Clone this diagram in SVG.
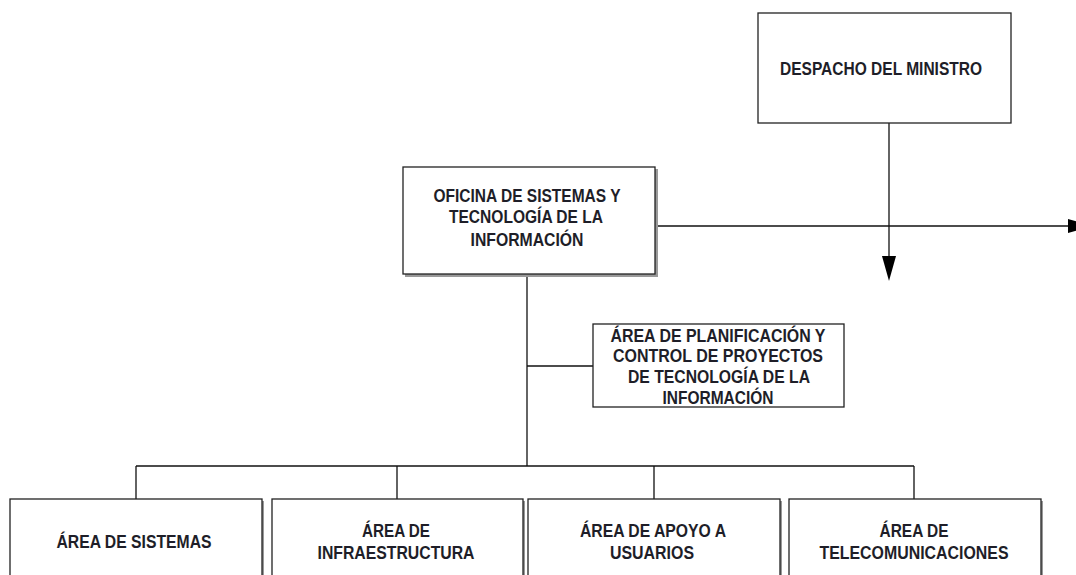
<svg xmlns="http://www.w3.org/2000/svg" width="1076" height="575" viewBox="0 0 1076 575">
<style>
.box{fill:#fff;stroke:#222;stroke-width:1.3}
.shadow{fill:#999}
.ln{fill:none;stroke:#111;stroke-width:1.3}
.t{font-family:"Liberation Sans",Arial,sans-serif;font-weight:bold;font-size:18px;fill:#1e1e28;text-anchor:middle}
</style>
<rect width="1076" height="575" fill="#fff"/>
<g id="connectors">
<path class="ln" d="M889 123V257"/>
<polygon points="882,256 896,256 889,281" fill="#000"/>
<path class="ln" d="M655 226H1070"/>
<polygon points="1068,219 1068,233 1092,226" fill="#000"/>
<path class="ln" d="M527 274V466"/>
<path class="ln" d="M527 366H593"/>
<path class="ln" d="M136 466H914"/>
<path class="ln" d="M136 466V499M397 466V499M654 466V499M914 466V499"/>
</g>
<g id="despacho">
<rect class="box" x="758" y="13" width="253" height="110"/>
<text class="t" x="881" y="75" textLength="202" lengthAdjust="spacingAndGlyphs">DESPACHO DEL MINISTRO</text>
</g>
<g id="oficina">
<rect class="shadow" x="405" y="169" width="253" height="108"/>
<rect class="box" x="403" y="167" width="252" height="107"/>
<text class="t" x="527" y="202" textLength="187" lengthAdjust="spacingAndGlyphs">OFICINA DE SISTEMAS Y</text>
<text class="t" x="526" y="223" textLength="154" lengthAdjust="spacingAndGlyphs">TECNOLOGÍA DE LA</text>
<text class="t" x="527" y="246" textLength="113" lengthAdjust="spacingAndGlyphs">INFORMACIÓN</text>
</g>
<g id="planificacion">
<rect class="box" x="593" y="324" width="251" height="83"/>
<text class="t" x="718" y="342" textLength="215" lengthAdjust="spacingAndGlyphs">ÁREA DE PLANIFICACIÓN Y</text>
<text class="t" x="718" y="362" textLength="210" lengthAdjust="spacingAndGlyphs">CONTROL DE PROYECTOS</text>
<text class="t" x="719" y="383" textLength="182" lengthAdjust="spacingAndGlyphs">DE TECNOLOGÍA DE LA</text>
<text class="t" x="718" y="404" textLength="111" lengthAdjust="spacingAndGlyphs">INFORMACIÓN</text>
</g>
<g id="sistemas">
<rect class="shadow" x="12" y="501" width="252" height="100"/>
<rect class="box" x="10" y="499" width="252" height="100"/>
<text class="t" x="134" y="548" textLength="155" lengthAdjust="spacingAndGlyphs">ÁREA DE SISTEMAS</text>
</g>
<g id="infraestructura">
<rect class="shadow" x="274" y="501" width="251" height="100"/>
<rect class="box" x="272" y="499" width="251" height="100"/>
<text class="t" x="396" y="537" textLength="68" lengthAdjust="spacingAndGlyphs">ÁREA DE</text>
<text class="t" x="396" y="559" textLength="157" lengthAdjust="spacingAndGlyphs">INFRAESTRUCTURA</text>
</g>
<g id="apoyo">
<rect class="shadow" x="530" y="501" width="252" height="100"/>
<rect class="box" x="528" y="499" width="252" height="100"/>
<text class="t" x="653" y="537" textLength="146" lengthAdjust="spacingAndGlyphs">ÁREA DE APOYO A</text>
<text class="t" x="652" y="559" textLength="84" lengthAdjust="spacingAndGlyphs">USUARIOS</text>
</g>
<g id="telecomunicaciones">
<rect class="shadow" x="791" y="501" width="252" height="100"/>
<rect class="box" x="789" y="499" width="252" height="100"/>
<text class="t" x="914" y="537" textLength="69" lengthAdjust="spacingAndGlyphs">ÁREA DE</text>
<text class="t" x="914" y="559" textLength="189" lengthAdjust="spacingAndGlyphs">TELECOMUNICACIONES</text>
</g>
</svg>
